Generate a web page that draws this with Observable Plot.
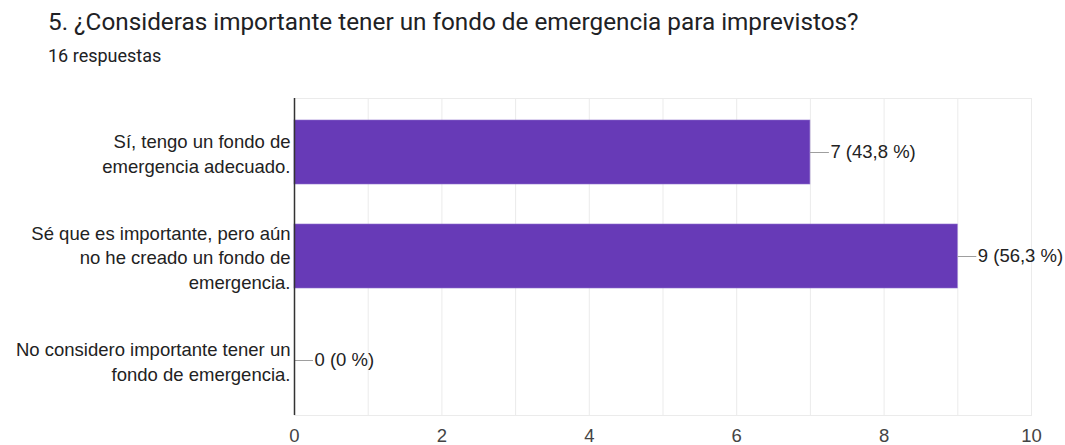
<!DOCTYPE html>
<html>
<head>
<meta charset="utf-8">
<script src="https://cdn.jsdelivr.net/npm/d3@7"></script>
<script src="https://cdn.jsdelivr.net/npm/@observablehq/plot@0.6"></script>
<style>
  html, body { margin: 0; padding: 0; background: #fff; overflow: hidden; }
  #header { position: relative; height: 76px; width: 1065px; }
  #title { position: absolute; left: 48px; top: 8px; font-family: Roboto, sans-serif; font-size: 24.3px; color: #202124; white-space: nowrap; line-height: 28px; }
  #subtitle { position: absolute; left: 48px; top: 45px; font-family: Roboto, sans-serif; font-size: 18px; color: #202124; line-height: 21px; }
  #chart svg { display: block; }
</style>
</head>
<body>
<div id="header">
  <div id="title">5. ¿Consideras importante tener un fondo de emergencia para imprevistos?</div>
  <div id="subtitle">16 respuestas</div>
</div>
<div id="chart"></div>
<script>
const categories = [
  "Sí, tengo un fondo de\nemergencia adecuado.",
  "Sé que es importante, pero aún\nno he creado un fondo de\nemergencia.",
  "No considero importante tener un\nfondo de emergencia."
];
const counts = [7, 9, 0];
const percents = ["43,8 %", "56,3 %", "0 %"];
const xTicks = [0, 2, 4, 6, 8, 10];
const gridTicks = [1, 2, 3, 4, 5, 6, 7, 8, 9, 10];

const data = categories.map((c, i) => ({ cat: c, value: counts[i], label: `${counts[i]} (${percents[i]})` }));
const font = "Arial, 'Liberation Sans', sans-serif";

const plot = Plot.plot({
  width: 1065,
  height: 375,
  marginLeft: 294,
  marginRight: 34,
  marginTop: 22,
  marginBottom: 36,
  style: { fontFamily: font, fontSize: "18.5px", color: "#222" },
  x: { domain: [0, 10], label: null },
  y: { domain: categories, paddingInner: 0.38, paddingOuter: 0.2, label: null, axis: null },
  marks: [
    Plot.ruleX(gridTicks, { stroke: "#ebebeb", strokeWidth: 1 }),
    Plot.frame({ stroke: "#ebebeb", strokeWidth: 1 }),
    Plot.barX(data, { y: "cat", x: "value", fill: "#673ab7", stroke: "#8e6fcc", strokeWidth: 0.6 }),
    Plot.ruleY(data, { y: "cat", x1: "value", x2: "value", insetRight: -19, stroke: "#9e9e9e", strokeWidth: 1 }),
    Plot.text(data, { y: "cat", x: "value", text: "label", dx: 20, textAnchor: "start", fill: "#222", fontSize: 18.5 }),
    Plot.text(data, { y: "cat", text: "cat", frameAnchor: "left", dx: -4, textAnchor: "end", lineHeight: 1.33, fill: "#222", fontSize: 18.5 }),
    Plot.ruleX([0], { stroke: "#333", strokeWidth: 1.5 }),
    Plot.axisX(xTicks, { tickSize: 0, tickPadding: 13, fill: "#444", fontSize: 18.5, label: null })
  ]
});
document.getElementById("chart").appendChild(plot);
</script>
</body>
</html>
